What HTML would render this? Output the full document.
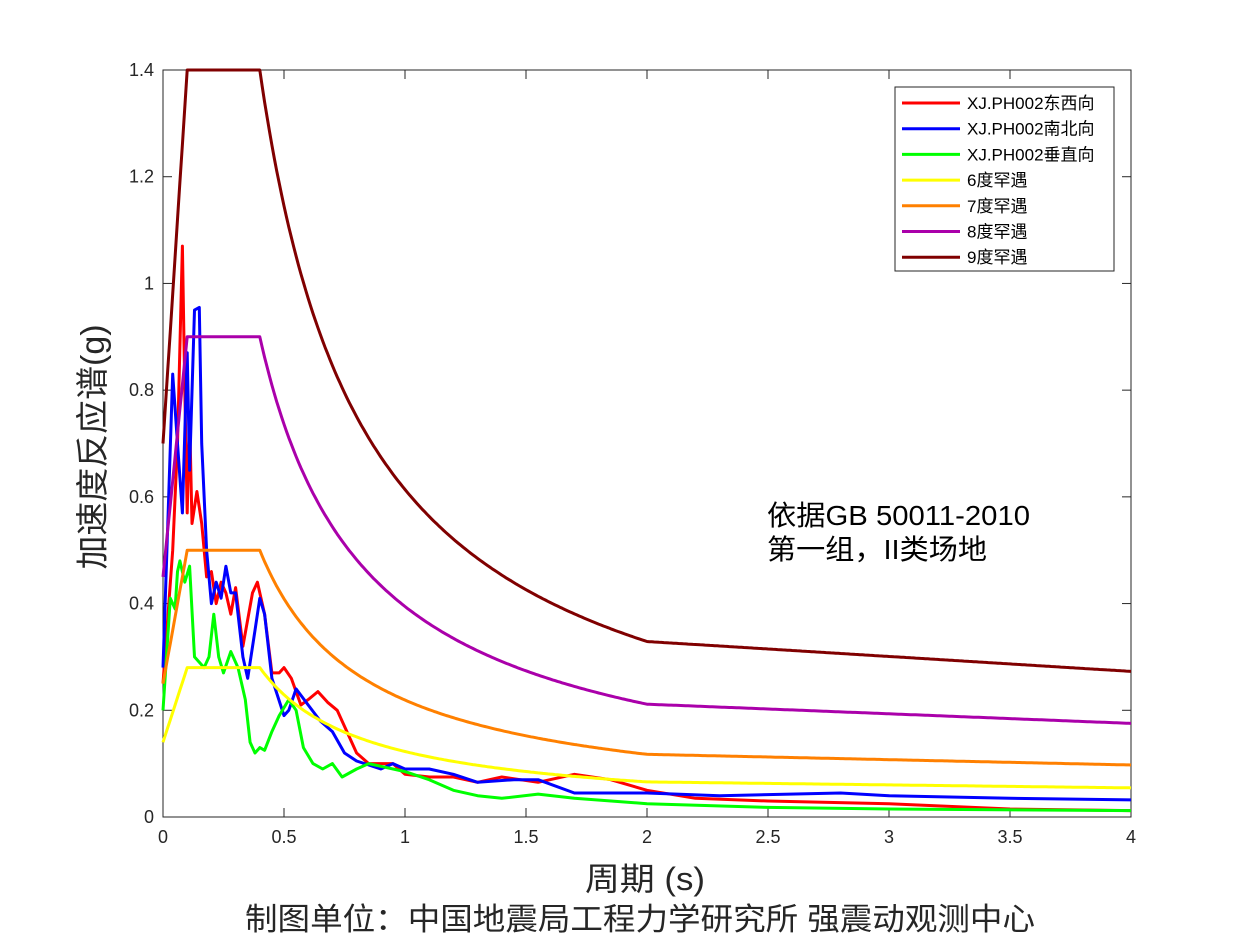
<!DOCTYPE html>
<html><head><meta charset="utf-8">
<style>
html,body{margin:0;padding:0;background:#fff;}
svg text{font-family:"Liberation Sans","Noto Sans CJK SC",sans-serif;}
</style></head>
<body>
<svg id="s" width="1250" height="938" xmlns="http://www.w3.org/2000/svg">
<rect x="0" y="0" width="1250" height="938" fill="#fff"/>
<rect x="163" y="70" width="968" height="747" fill="#fff" stroke="#262626" stroke-width="1"/>
<g id="ticks" stroke="#262626" stroke-width="1"></g>
<g id="tl" font-size="18" fill="#262626"></g>
<g id="curves" fill="none" stroke-width="3" stroke-linejoin="round"></g>
<text x="100" y="443" font-size="33" fill="#262626" text-anchor="middle" transform="rotate(-90 104 443)" textLength="245" lengthAdjust="spacingAndGlyphs">加速度反应谱(g)</text>
<text x="645" y="890" font-size="32" fill="#262626" text-anchor="middle" textLength="120" lengthAdjust="spacingAndGlyphs">周期 (s)</text>
<text x="640" y="930" font-size="31" fill="#262626" text-anchor="middle" textLength="790" lengthAdjust="spacingAndGlyphs">制图单位：中国地震局工程力学研究所 强震动观测中心</text>
<text x="767" y="525" font-size="28" fill="#000" textLength="263" lengthAdjust="spacingAndGlyphs">依据GB 50011-2010</text>
<text x="767" y="559" font-size="28" fill="#000" textLength="220" lengthAdjust="spacingAndGlyphs">第一组，II类场地</text>
<rect x="895" y="87" width="219" height="184" fill="#fff" stroke="#262626" stroke-width="1"/>
<g id="leg" font-size="17" fill="#000"></g>
</svg>
<script>
const X=t=>163+t*242, Y=g=>817-g*533.57;
const NS="http://www.w3.org/2000/svg";
function el(p,n,a,t){const e=document.createElementNS(NS,n);for(const k in a)e.setAttribute(k,a[k]);if(t!=null)e.textContent=t;document.getElementById(p).appendChild(e);}
for(let i=0;i<=8;i++){const x=X(i*0.5);
 el('ticks','line',{x1:x,y1:817,x2:x,y2:808});el('ticks','line',{x1:x,y1:70,x2:x,y2:79});
 el('tl','text',{x:x,y:843,'text-anchor':'middle'},String(i*0.5));}
for(let i=0;i<=7;i++){const g=i*0.2,y=Y(g);
 el('ticks','line',{x1:163,y1:y,x2:172,y2:y});el('ticks','line',{x1:1131,y1:y,x2:1122,y2:y});
 el('tl','text',{x:154,y:y+6,'text-anchor':'end'},(Math.round(g*10)/10).toString());}
function spec(a){const p=[];for(let t=0;t<=4.0001;t+=0.01){let v;
 if(t<0.1)v=a*(0.5+5*t);else if(t<=0.4)v=a;else if(t<=2)v=a*Math.pow(0.4/t,0.9);else v=a*(Math.pow(0.2,0.9)-0.02*(t-2));
 p.push(X(t).toFixed(1)+','+Y(v).toFixed(1));}return p.join(' ');}
function pts(a){return a.map(q=>X(q[0]).toFixed(1)+','+Y(q[1]).toFixed(1)).join(' ');}
const red=[[0,0.25],[0.04,0.5],[0.06,0.7],[0.08,1.07],[0.09,0.8],[0.1,0.57],[0.11,0.75],[0.12,0.55],[0.14,0.61],[0.16,0.55],[0.18,0.45],[0.2,0.46],[0.22,0.4],[0.24,0.44],[0.26,0.42],[0.28,0.38],[0.3,0.43],[0.33,0.32],[0.37,0.42],[0.39,0.44],[0.42,0.38],[0.45,0.27],[0.48,0.27],[0.5,0.28],[0.53,0.26],[0.57,0.21],[0.6,0.22],[0.64,0.235],[0.68,0.215],[0.72,0.2],[0.76,0.16],[0.8,0.12],[0.85,0.1],[0.9,0.1],[0.95,0.1],[1.0,0.08],[1.1,0.075],[1.2,0.075],[1.3,0.065],[1.4,0.075],[1.55,0.065],[1.7,0.08],[1.85,0.07],[2.0,0.05],[2.2,0.035],[2.5,0.03],[3,0.025],[3.5,0.015],[4,0.012]];
const blue=[[0,0.28],[0.02,0.55],[0.04,0.83],[0.06,0.7],[0.08,0.57],[0.1,0.87],[0.11,0.65],[0.13,0.95],[0.15,0.955],[0.16,0.7],[0.18,0.5],[0.2,0.4],[0.22,0.44],[0.24,0.41],[0.26,0.47],[0.28,0.42],[0.3,0.42],[0.33,0.3],[0.35,0.26],[0.38,0.35],[0.4,0.41],[0.42,0.38],[0.45,0.26],[0.5,0.19],[0.52,0.2],[0.55,0.24],[0.6,0.21],[0.65,0.18],[0.7,0.16],[0.75,0.12],[0.8,0.105],[0.9,0.09],[0.95,0.1],[1.0,0.09],[1.1,0.09],[1.2,0.08],[1.3,0.065],[1.45,0.07],[1.55,0.07],[1.7,0.045],[2,0.045],[2.3,0.04],[2.8,0.045],[3,0.04],[3.5,0.035],[4,0.032]];
const green=[[0,0.2],[0.03,0.41],[0.05,0.39],[0.06,0.46],[0.07,0.48],[0.09,0.44],[0.11,0.47],[0.13,0.3],[0.15,0.29],[0.17,0.28],[0.19,0.3],[0.21,0.38],[0.23,0.3],[0.25,0.27],[0.28,0.31],[0.31,0.28],[0.34,0.22],[0.36,0.14],[0.38,0.12],[0.4,0.13],[0.42,0.125],[0.45,0.16],[0.48,0.19],[0.52,0.22],[0.55,0.2],[0.58,0.13],[0.62,0.1],[0.66,0.09],[0.7,0.1],[0.74,0.075],[0.8,0.09],[0.85,0.1],[0.9,0.095],[1.0,0.085],[1.1,0.07],[1.2,0.05],[1.3,0.04],[1.4,0.035],[1.55,0.043],[1.7,0.035],[2,0.025],[2.5,0.018],[3,0.015],[4,0.012]];
el('curves','polyline',{points:pts(red),stroke:'#ff0000'});
el('curves','polyline',{points:pts(blue),stroke:'#0000ff'});
el('curves','polyline',{points:pts(green),stroke:'#00ff00'});
el('curves','polyline',{points:spec(0.28),stroke:'#ffff00'});
el('curves','polyline',{points:spec(0.5),stroke:'#ff8000'});
el('curves','polyline',{points:spec(0.9),stroke:'#aa00aa'});
el('curves','polyline',{points:spec(1.4),stroke:'#800000'});
const L=[['XJ.PH002东西向','#ff0000'],['XJ.PH002南北向','#0000ff'],['XJ.PH002垂直向','#00ff00'],['6度罕遇','#ffff00'],['7度罕遇','#ff8000'],['8度罕遇','#aa00aa'],['9度罕遇','#800000']];
L.forEach((l,i)=>{const y=103+i*25.7;
 el('leg','line',{x1:902,y1:y,x2:960,y2:y,stroke:l[1],'stroke-width':3});
 el('leg','text',{x:967,y:y+6},l[0]);});
</script>
</body></html>
